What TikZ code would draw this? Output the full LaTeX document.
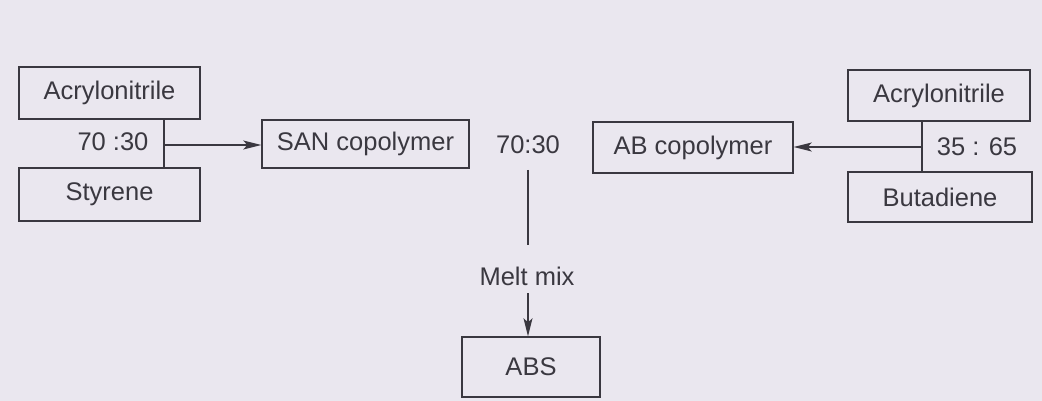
\documentclass[tikz,border=0pt]{standalone}
\usepackage{fontspec}
\setmainfont{Liberation Sans}
\usetikzlibrary{arrows.meta}
\definecolor{bg}{RGB}{234,231,239}
\definecolor{ink}{RGB}{58,56,64}
\begin{document}
\begin{tikzpicture}[x=1pt,y=-1pt,
  box/.style={draw=ink,line width=1.4pt,inner sep=0pt,text=ink,font=\fontsize{25.5}{30}\selectfont},
  lbl/.style={inner sep=1pt,text=ink,font=\fontsize{25.5}{30}\selectfont},
  conn/.style={draw=ink,line width=1.4pt},
  arr/.style={conn,-{Stealth[length=18pt,width=9pt,inset=4pt]}}]
\fill[bg] (0,0) rectangle (1042,401);
\useasboundingbox (0,0) rectangle (1042,401);
% left group
\node[box,minimum width=181pt,minimum height=52pt] (a1) at (109.5,93) {Acrylonitrile};
\node[box,minimum width=181pt,minimum height=53pt] (s1) at (109.5,194.5) {Styrene};
\node[lbl] (r1) at (113,142) {70 :30};
\coordinate (j1) at (164,145);
\draw[conn] (a1.south -| j1) -- (s1.north -| j1);
\node[box,minimum width=207pt,minimum height=48pt] (san) at (365.5,144) {SAN copolymer};
\draw[arr] (j1) -- (san.west |- j1);
% right group
\node[box,minimum width=182pt,minimum height=51pt] (a2) at (939,95.5) {Acrylonitrile};
\node[box,minimum width=184pt,minimum height=50pt] (b2) at (940,197) {Butadiene};
\node[lbl] (r3) at (977,147) {35 : 65};
\coordinate (j2) at (922,147);
\draw[conn] (a2.south -| j2) -- (b2.north -| j2);
\node[box,minimum width=200pt,minimum height=51pt] (ab) at (693,147.5) {AB copolymer};
\draw[arr] (j2) -- (ab.east |- j2);
% middle
\node[lbl] (r2) at (528,145) {70:30};
\node[lbl] (melt) at (527,276) {Melt mix};
\node[box,minimum width=138pt,minimum height=60pt] (abs) at (531,367) {ABS};
\coordinate (m1) at (528,170);
\coordinate (m2) at (528,245);
\coordinate (m3) at (528,293);
\draw[conn] (m1) -- (m2);
\draw[arr] (m3) -- (m3 |- abs.north);
\end{tikzpicture}
\end{document}
